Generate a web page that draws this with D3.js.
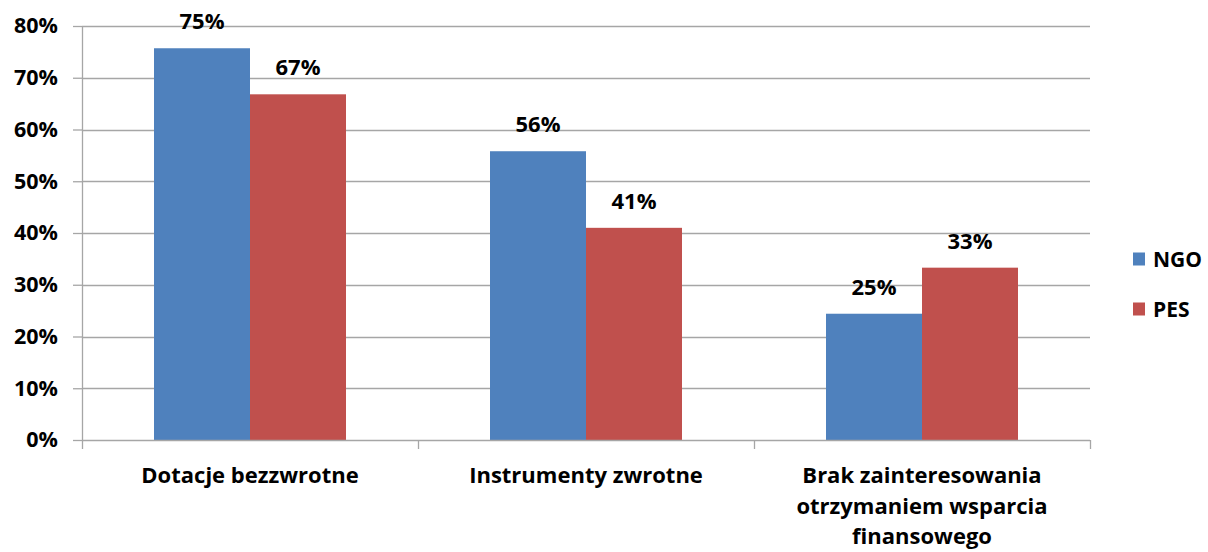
<!DOCTYPE html>
<html>
<head>
<meta charset="utf-8">
<script src="https://cdn.jsdelivr.net/npm/d3@7"></script>
<style>
  html, body { margin: 0; padding: 0; background: #fff; }
  svg { display: block; }
  text { font-family: "Open Sans", "Liberation Sans", sans-serif; font-weight: bold; fill: #000; }
</style>
</head>
<body>
<svg id="chart" width="1208" height="552"></svg>
<script>
const categories = ["Dotacje bezzwrotne", "Instrumenty zwrotne", "Brak zainteresowania otrzymaniem wsparcia finansowego"];
const seriesNames = ["NGO", "PES"];
const ngoValues = [0.757, 0.558, 0.244];
const pesValues = [0.668, 0.410, 0.333];
const ngoLabels = ["75%", "56%", "25%"];
const pesLabels = ["67%", "41%", "33%"];
const yTicks = [0, 0.1, 0.2, 0.3, 0.4, 0.5, 0.6, 0.7, 0.8];
const colors = ["#4F81BD", "#C0504D"];

const svg = d3.select("#chart");
const plotLeft = 82, plotRight = 1090, plotTop = 26, plotBottom = 440;

const y = d3.scaleLinear().domain([0, 0.8]).range([plotBottom, plotTop]);
const x0 = d3.scaleBand().domain(categories).range([plotLeft, plotRight]).paddingInner(0).paddingOuter(0);
const x1 = d3.scaleBand().domain(seriesNames).range([0, x0.bandwidth()]).paddingInner(0).paddingOuter(0.75);
const color = d3.scaleOrdinal().domain(seriesNames).range(colors);

// gridlines
svg.append("g").selectAll("line").data(yTicks.slice(1)).join("line")
  .attr("x1", plotLeft).attr("x2", plotRight)
  .attr("y1", d => Math.round(y(d)) + 0.5).attr("y2", d => Math.round(y(d)) + 0.5)
  .attr("stroke", "#a6a6a6").attr("stroke-width", 1.3);

// y axis
const yAxis = d3.axisLeft(y).tickValues(yTicks).tickFormat(d3.format(".0%")).tickSize(9).tickPadding(15);
const gy = svg.append("g").attr("transform", `translate(${plotLeft},0)`).call(yAxis);
gy.select(".domain").remove();
gy.selectAll(".tick line").attr("stroke", "#a6a6a6").attr("stroke-width", 1.3);
gy.selectAll(".tick text").attr("font-size", 21.5).attr("font-family", "'Open Sans', sans-serif").attr("font-weight", "bold").attr("fill", "#000");
svg.append("line").attr("x1", plotLeft + 0.5).attr("x2", plotLeft + 0.5).attr("y1", plotTop).attr("y2", plotBottom + 9)
  .attr("stroke", "#a6a6a6").attr("stroke-width", 1.3);

// bars
const rows = categories.map((c, i) => ({ cat: c, vals: [
  { s: "NGO", v: ngoValues[i], lab: ngoLabels[i] },
  { s: "PES", v: pesValues[i], lab: pesLabels[i] } ] }));

const groups = svg.append("g").selectAll("g").data(rows).join("g")
  .attr("transform", d => `translate(${x0(d.cat)},0)`);
groups.selectAll("rect").data(d => d.vals).join("rect")
  .attr("x", d => x1(d.s)).attr("width", x1.bandwidth())
  .attr("y", d => y(d.v)).attr("height", d => y(0) - y(d.v))
  .attr("fill", d => color(d.s));
groups.selectAll("text.val").data(d => d.vals).join("text").attr("class", "val")
  .attr("x", d => x1(d.s) + x1.bandwidth() / 2)
  .attr("y", d => y(d.v) - 19)
  .attr("text-anchor", "middle").attr("font-size", 22)
  .text(d => d.lab);

// x axis
svg.append("line").attr("x1", plotLeft).attr("x2", plotRight).attr("y1", plotBottom + 0.5).attr("y2", plotBottom + 0.5)
  .attr("stroke", "#a6a6a6").attr("stroke-width", 1.3);
const xAxis = d3.axisBottom(x0).tickSize(0).tickFormat("");
const gx = svg.append("g").attr("transform", `translate(0,${plotBottom})`).call(xAxis);
gx.select(".domain").remove();
// category boundary ticks
const bounds = categories.map(c => x0(c) + x0.bandwidth());
svg.append("g").selectAll("line").data(bounds).join("line")
  .attr("x1", d => Math.round(d) + 0.5).attr("x2", d => Math.round(d) + 0.5)
  .attr("y1", plotBottom).attr("y2", plotBottom + 9)
  .attr("stroke", "#a6a6a6").attr("stroke-width", 1.3);

// category labels with wrapping
const maxW = 300;
categories.forEach(c => {
  const cx = x0(c) + x0.bandwidth() / 2;
  const t = svg.append("text").attr("text-anchor", "middle").attr("font-size", 22)
    .attr("x", cx).attr("y", 483);
  const words = c.split(" ");
  let line = [], lineNo = 0;
  let tspan = t.append("tspan").attr("x", cx).attr("y", 483);
  words.forEach(w => {
    line.push(w);
    tspan.text(line.join(" "));
    if (tspan.node().getComputedTextLength() > maxW && line.length > 1) {
      line.pop();
      tspan.text(line.join(" "));
      line = [w];
      lineNo++;
      tspan = t.append("tspan").attr("x", cx).attr("y", 483 + lineNo * 30.5).text(w);
    }
  });
});

// legend
const legend = svg.append("g").selectAll("g").data(seriesNames).join("g")
  .attr("transform", (d, i) => `translate(1133,${259 + i * 50})`);
legend.append("rect").attr("x", 0).attr("y", -6.5).attr("width", 12).attr("height", 13).attr("fill", d => color(d));
legend.append("text").attr("x", 20).attr("y", 7.5).attr("font-size", 21).text(d => d);
</script>
</body>
</html>
